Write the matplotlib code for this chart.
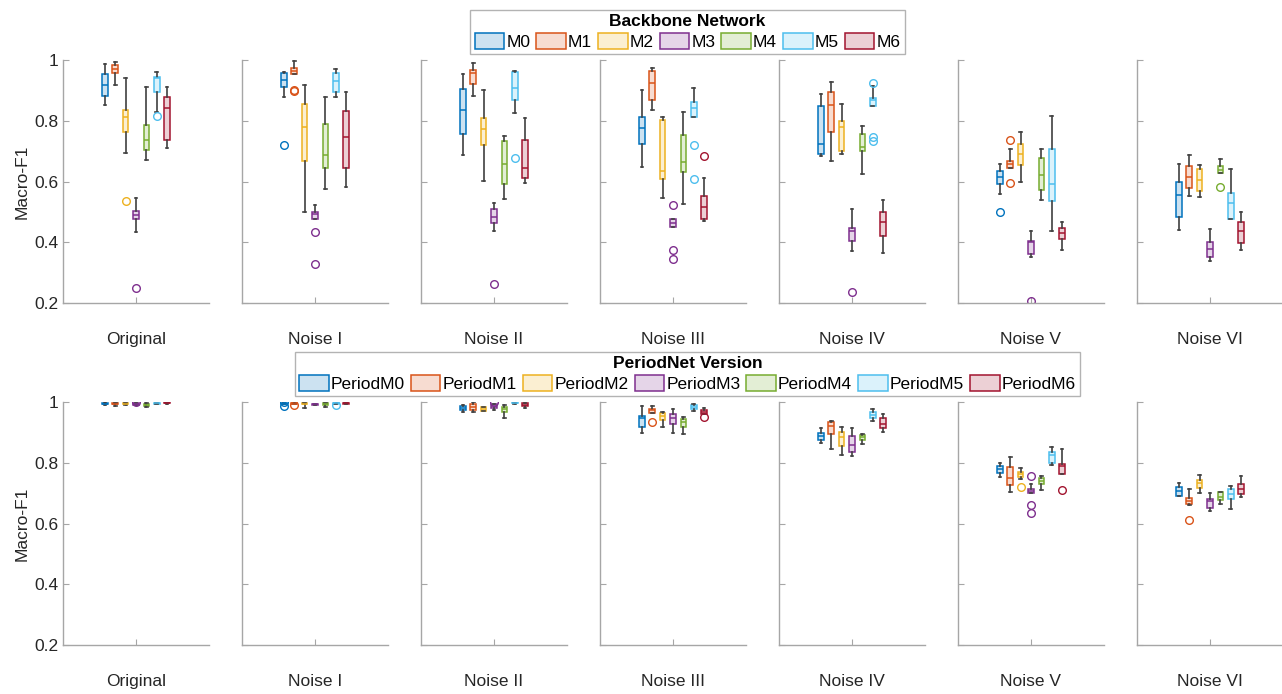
import matplotlib
matplotlib.use("Agg")
import matplotlib.pyplot as plt
from matplotlib.colors import to_rgba
from matplotlib.patches import Patch

plt.rcParams['font.family'] = ['Liberation Sans', 'DejaVu Sans']

scenarios = ['Original', 'Noise I', 'Noise II', 'Noise III', 'Noise IV', 'Noise V', 'Noise VI']
models = ['M0', 'M1', 'M2', 'M3', 'M4', 'M5', 'M6']
period_models = ['PeriodM0', 'PeriodM1', 'PeriodM2', 'PeriodM3', 'PeriodM4', 'PeriodM5', 'PeriodM6']
colors = ['#0072BD', '#D95319', '#EDB120', '#7E2F8E', '#77AC30', '#4DBEEE', '#A2142F']

# Backbone network (top row): per scenario, per model -> [whislo, q1, med, q3, whishi]
bb_stats = [
    [[.853, .881, .918, .953, .987], [.917, .956, .970, .982, .992], [.693, .764, .813, .835, .940],
     [.434, .475, .490, .503, .547], [.670, .703, .736, .787, .912], [.830, .894, .940, .945, .959],
     [.709, .736, .841, .879, .912]],
    [[.877, .910, .934, .956, .962], [.953, .953, .965, .975, .997], [.498, .669, .778, .855, .917],
     [.475, .475, .492, .498, .522], [.574, .646, .688, .788, .879], [.879, .894, .932, .956, .969],
     [.581, .646, .747, .832, .896]],
    [[.688, .755, .834, .903, .953], [.880, .922, .957, .966, .989], [.603, .719, .772, .810, .901],
     [.436, .465, .484, .511, .528], [.541, .592, .658, .733, .751], [.826, .867, .909, .959, .965],
     [.594, .610, .643, .735, .808]],
    [[.647, .724, .777, .813, .901], [.836, .869, .924, .963, .973], [.545, .607, .633, .803, .812],
     [.450, .450, .465, .475, .475], [.525, .631, .665, .752, .829], [.811, .811, .841, .863, .909],
     [.469, .478, .517, .551, .610]],
    [[.683, .689, .723, .849, .887], [.668, .762, .851, .894, .926], [.692, .700, .779, .799, .854],
     [.370, .403, .436, .447, .508], [.624, .699, .714, .758, .783], [.847, .847, .867, .876, .915],
     [.365, .422, .467, .500, .538]],
    [[.559, .591, .615, .636, .659], [.643, .643, .656, .668, .706], [.597, .655, .689, .722, .763],
     [.351, .362, .400, .404, .436], [.539, .573, .622, .677, .706], [.436, .536, .592, .706, .815],
     [.376, .410, .430, .447, .467]],
    [[.439, .482, .557, .600, .659], [.552, .579, .615, .651, .687], [.550, .568, .604, .642, .655],
     [.337, .353, .379, .401, .444], [.627, .627, .637, .651, .675], [.476, .476, .528, .561, .640],
     [.376, .397, .436, .466, .500]],
]
# outliers: (scenario index, model index) -> values
bb_fliers = {
    (0, 2): [.535], (0, 3): [.249], (0, 5): [.814],
    (1, 0): [.720], (1, 1): [.897, .902], (1, 3): [.433, .330],
    (2, 3): [.261], (2, 5): [.677],
    (3, 3): [.522, .373, .346], (3, 5): [.720, .608], (3, 6): [.685],
    (4, 3): [.236], (4, 5): [.924, .747, .733],
    (5, 0): [.499], (5, 1): [.735, .596], (5, 3): [.205],
    (6, 4): [.582],
}

# PeriodNet version (bottom row)
pn_stats = [
    [[.991, .992, .995, .998, .999], [.987, .993, .995, .997, .998], [.990, .992, .995, .997, .998],
     [.989, .990, .993, .996, .997], [.984, .986, .990, .994, .997], [.993, .994, .996, .998, .998],
     [.995, .996, .998, .999, 1.0]],
    [[.992, .993, .994, .996, .997], [.993, .993, .995, .996, .997], [.981, .992, .994, .996, .997],
     [.989, .990, .992, .994, .995], [.983, .990, .993, .996, .997], [.993, .994, .996, .998, .998],
     [.995, .995, .996, .997, .998]],
    [[.966, .974, .981, .988, .990], [.966, .975, .982, .992, 1.0], [.971, .971, .978, .985, .985],
     [.975, .980, .986, .992, .994], [.948, .968, .976, .984, .990], [.993, .996, .998, 1.0, 1.0],
     [.980, .986, .990, .997, .997]],
    [[.899, .918, .946, .954, .986], [.963, .963, .974, .977, .986], [.917, .942, .954, .965, .966],
     [.899, .928, .946, .960, .976], [.894, .918, .933, .943, .952], [.971, .977, .984, .990, .992],
     [.962, .962, .968, .973, .979]],
    [[.864, .874, .889, .899, .916], [.845, .896, .920, .933, .937], [.826, .856, .884, .900, .919],
     [.823, .836, .858, .889, .913], [.863, .876, .884, .891, .894], [.937, .946, .957, .966, .976],
     [.902, .913, .929, .946, .960]],
    [[.754, .765, .778, .788, .800], [.705, .727, .749, .785, .820], [.746, .752, .762, .770, .782],
     [.700, .700, .707, .714, .730], [.710, .729, .740, .749, .757], [.792, .798, .826, .834, .851],
     [.762, .762, .790, .796, .844]],
    [[.690, .690, .707, .719, .734], [.660, .664, .675, .685, .713], [.699, .716, .734, .743, .761],
     [.642, .651, .675, .682, .699], [.663, .677, .688, .703, .704], [.648, .682, .697, .714, .722],
     [.686, .696, .713, .730, .757]],
]
pn_fliers = {
    (0, 3): [1.0],
    (1, 0): [1.0, .987], (1, 1): [.990], (1, 5): [.990],
    (2, 3): [1.0],
    (3, 1): [.935], (3, 6): [.952],
    (5, 2): [.721], (5, 3): [.757, .662, .634], (5, 6): [.709],
    (6, 1): [.612],
}

W, H = 1282, 694
fig = plt.figure(figsize=(W / 100, H / 100), dpi=100)

col_left = [63, 242, 421, 600, 779, 958, 1137]
ax_w = 146
rows = [(60, 303, bb_stats, bb_fliers), (402, 645, pn_stats, pn_fliers)]
offsets = [-3, -2, -1, 0, 1, 2, 3]
step = 0.0712
spine_col = '#A6A6A6'

for r, (ytop, ybot, stats_all, fliers_all) in enumerate(rows):
    for s, name in enumerate(scenarios):
        ax = fig.add_axes([col_left[s] / W, 1 - ybot / H, ax_w / W, (ybot - ytop) / H])
        for m in range(len(models)):
            lo, q1, med, q3, hi = stats_all[s][m]
            st = dict(whislo=lo, q1=q1, med=med, q3=q3, whishi=hi,
                      fliers=fliers_all.get((s, m), []))
            c = colors[m]
            ax.bxp([st], positions=[0.5 + offsets[m] * step], widths=0.038,
                   patch_artist=True, showfliers=True, capwidths=0.018,
                   boxprops=dict(facecolor=to_rgba(c, 0.2), edgecolor=c, linewidth=1.1),
                   medianprops=dict(color=c, linewidth=1.1),
                   whiskerprops=dict(color='#404040', linewidth=1.2),
                   capprops=dict(color='#404040', linewidth=1.2),
                   flierprops=dict(marker='o', markerfacecolor='none', markeredgecolor=c,
                                   markersize=5.5, markeredgewidth=1.0))
        ax.set_xlim(0, 1)
        ax.set_ylim(0.2, 1.0)
        ax.set_xticks([0.5])
        ax.set_xticklabels([''])
        ax.set_yticks([0.2, 0.4, 0.6, 0.8, 1.0])
        for sp in ['top', 'right']:
            ax.spines[sp].set_visible(False)
        for sp in ['left', 'bottom']:
            ax.spines[sp].set_color(spine_col)
            ax.spines[sp].set_linewidth(1.0)
        ax.tick_params(direction='in', length=4, color=spine_col, labelsize=12.5,
                       labelcolor='#262626')
        if s == 0:
            ax.set_yticklabels(['0.2', '0.4', '0.6', '0.8', '1'])
            ax.set_ylabel('Macro-F1', fontsize=12.5, color='#262626', labelpad=3)
        else:
            ax.set_yticklabels([])
        ax.text(0.5, -0.152, name, transform=ax.transAxes, ha='center', va='center',
                fontsize=12.5, color='#262626')

legend_kw = dict(loc='upper center', ncol=7, fontsize=12.5, frameon=True, fancybox=False,
                 edgecolor='#A0A0A0', handlelength=1.7, handleheight=1.1, handletextpad=0.12,
                 columnspacing=0.35, borderpad=0.25, borderaxespad=0, labelspacing=0.2,
                 title_fontproperties={'weight': 'bold', 'size': 12.5})

handles = [Patch(facecolor=to_rgba(c, 0.2), edgecolor=c, linewidth=1.1) for c in colors]
leg1 = fig.legend(handles, models, title='Backbone Network',
                  bbox_to_anchor=(687.5 / W, 1 - 10 / H), **legend_kw)
leg1.get_frame().set_linewidth(1.0)
leg2 = fig.legend(handles, period_models, title='PeriodNet Version',
                  bbox_to_anchor=(687.5 / W, 1 - 352 / H), **legend_kw)
leg2.get_frame().set_linewidth(1.0)

fig.savefig('out.png', dpi=100)
